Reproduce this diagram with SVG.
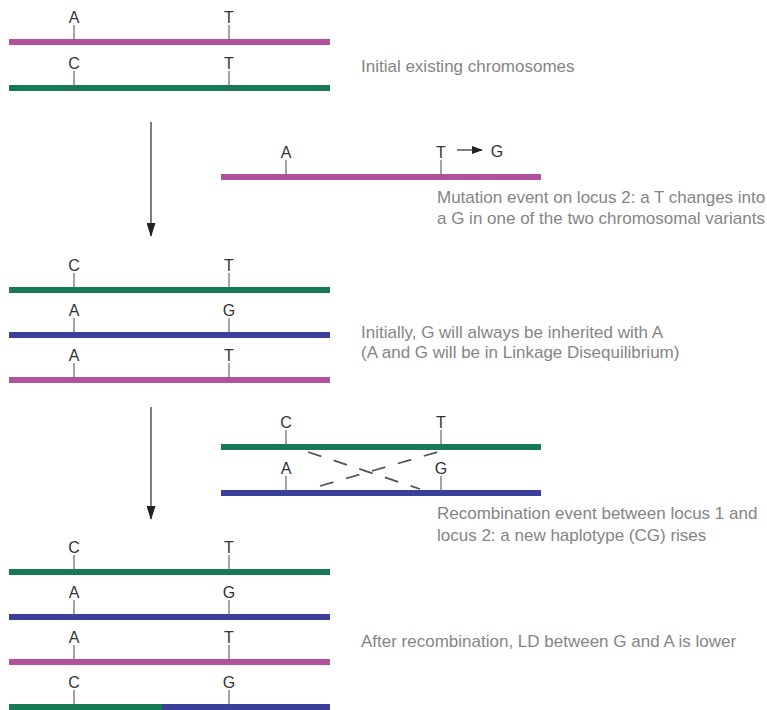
<svg xmlns="http://www.w3.org/2000/svg" width="767" height="710" viewBox="0 0 767 710">
<defs>
<style>
.pink{stroke:#b4519f;stroke-width:6}
.green{stroke:#177a55;stroke-width:6}
.blue{stroke:#3b3f99;stroke-width:6}
.tick{stroke:#666;stroke-width:1.2}
.lbl{font-family:"Liberation Sans Narrow","Liberation Sans",Arial,sans-serif;font-size:16px;fill:#333;text-anchor:middle}
.cap{font-family:"Liberation Sans",Arial,sans-serif;font-size:17px;fill:#858585}
.arr{stroke:#555;stroke-width:1.5;fill:none}
.dash{stroke:#555;stroke-width:1.8;stroke-dasharray:14 13;fill:none}
</style>
<marker id="ah" viewBox="0 0 14 9" refX="13" refY="4.5" markerWidth="14" markerHeight="9" markerUnits="userSpaceOnUse" orient="auto">
<path d="M0,0 L14,4.5 L0,9 z" fill="#222"/>
</marker>
<marker id="ah2" viewBox="0 0 11 8" refX="10" refY="4" markerWidth="11" markerHeight="8" markerUnits="userSpaceOnUse" orient="auto">
<path d="M0,0 L11,4 L0,8 z" fill="#222"/>
</marker>
</defs>
<rect width="767" height="710" fill="#fff"/>

<g id="chr1a">
<line class="pink" x1="9" y1="42" x2="330" y2="42"/>
<line class="tick" x1="74" y1="25" x2="74" y2="40"/><text class="lbl" x="74" y="23">A</text>
<line class="tick" x1="229" y1="25" x2="229" y2="40"/><text class="lbl" x="229" y="23">T</text>
</g>
<g id="chr1b">
<line class="green" x1="9" y1="88" x2="330" y2="88"/>
<line class="tick" x1="74" y1="71" x2="74" y2="86"/><text class="lbl" x="74" y="69">C</text>
<line class="tick" x1="229" y1="71" x2="229" y2="86"/><text class="lbl" x="229" y="69">T</text>
</g>
<g id="cap1"><text class="cap" x="361" y="72">Initial existing chromosomes</text></g>

<g id="mut">
<line class="pink" x1="221" y1="177" x2="541" y2="177"/>
<line class="tick" x1="286" y1="160" x2="286" y2="175"/><text class="lbl" x="286" y="158">A</text>
<line class="tick" x1="441" y1="160" x2="441" y2="175"/><text class="lbl" x="441" y="158">T</text>
<text class="lbl" x="497" y="157">G</text>
</g>
<g id="cap2"><text class="cap" x="437" y="203">Mutation event on locus 2: a T changes into</text>
<text class="cap" x="437" y="224">a G in one of the two chromosomal variants</text></g>

<g id="chr3a">
<line class="green" x1="9" y1="290" x2="330" y2="290"/>
<line class="tick" x1="74" y1="273" x2="74" y2="288"/><text class="lbl" x="74" y="271">C</text>
<line class="tick" x1="229" y1="273" x2="229" y2="288"/><text class="lbl" x="229" y="271">T</text>
</g>
<g id="chr3b">
<line class="blue" x1="9" y1="335" x2="330" y2="335"/>
<line class="tick" x1="74" y1="318" x2="74" y2="333"/><text class="lbl" x="74" y="316">A</text>
<line class="tick" x1="229" y1="318" x2="229" y2="333"/><text class="lbl" x="229" y="316">G</text>
</g>
<g id="chr3c">
<line class="pink" x1="9" y1="380" x2="330" y2="380"/>
<line class="tick" x1="74" y1="363" x2="74" y2="378"/><text class="lbl" x="74" y="361">A</text>
<line class="tick" x1="229" y1="363" x2="229" y2="378"/><text class="lbl" x="229" y="361">T</text>
</g>
<g id="cap3"><text class="cap" x="361" y="338">Initially, G will always be inherited with A</text>
<text class="cap" x="361" y="358">(A and G will be in Linkage Disequilibrium)</text></g>

<g id="rec">
<line class="green" x1="221" y1="447" x2="541" y2="447"/>
<line class="tick" x1="286" y1="430" x2="286" y2="445"/><text class="lbl" x="286" y="428">C</text>
<line class="tick" x1="441" y1="430" x2="441" y2="445"/><text class="lbl" x="441" y="428">T</text>
<line class="blue" x1="221" y1="493" x2="541" y2="493"/>
<line class="tick" x1="286" y1="476" x2="286" y2="491"/><text class="lbl" x="286" y="474">A</text>
<line class="tick" x1="441" y1="476" x2="441" y2="491"/><text class="lbl" x="441" y="474">G</text>
</g>
<g id="cap4"><text class="cap" x="437" y="519">Recombination event between locus 1 and</text>
<text class="cap" x="437" y="541">locus 2: a new haplotype (CG) rises</text></g>

<g id="chr5a">
<line class="green" x1="9" y1="572" x2="330" y2="572"/>
<line class="tick" x1="74" y1="555" x2="74" y2="570"/><text class="lbl" x="74" y="553">C</text>
<line class="tick" x1="229" y1="555" x2="229" y2="570"/><text class="lbl" x="229" y="553">T</text>
</g>
<g id="chr5b">
<line class="blue" x1="9" y1="617" x2="330" y2="617"/>
<line class="tick" x1="74" y1="600" x2="74" y2="615"/><text class="lbl" x="74" y="598">A</text>
<line class="tick" x1="229" y1="600" x2="229" y2="615"/><text class="lbl" x="229" y="598">G</text>
</g>
<g id="chr5c">
<line class="pink" x1="9" y1="662" x2="330" y2="662"/>
<line class="tick" x1="74" y1="645" x2="74" y2="660"/><text class="lbl" x="74" y="643">A</text>
<line class="tick" x1="229" y1="645" x2="229" y2="660"/><text class="lbl" x="229" y="643">T</text>
</g>
<g id="chr5d">
<line class="green" x1="9" y1="707" x2="162" y2="707"/>
<line class="blue" x1="162" y1="707" x2="330" y2="707"/>
<line class="tick" x1="74" y1="690" x2="74" y2="705"/><text class="lbl" x="74" y="688">C</text>
<line class="tick" x1="229" y1="690" x2="229" y2="705"/><text class="lbl" x="229" y="688">G</text>
</g>
<g id="cap5"><text class="cap" x="361" y="647">After recombination, LD between G and A is lower</text></g>

<g id="connectors">
<line class="arr" x1="151" y1="122" x2="151" y2="236" marker-end="url(#ah)"/>
<line class="arr" x1="151" y1="407" x2="151" y2="519" marker-end="url(#ah)"/>
<line class="arr" x1="457" y1="150" x2="482" y2="150" marker-end="url(#ah2)"/>
<path class="dash" d="M308,452 L420,489"/>
<path class="dash" d="M320,486 L441,451"/>
</g>
</svg>
